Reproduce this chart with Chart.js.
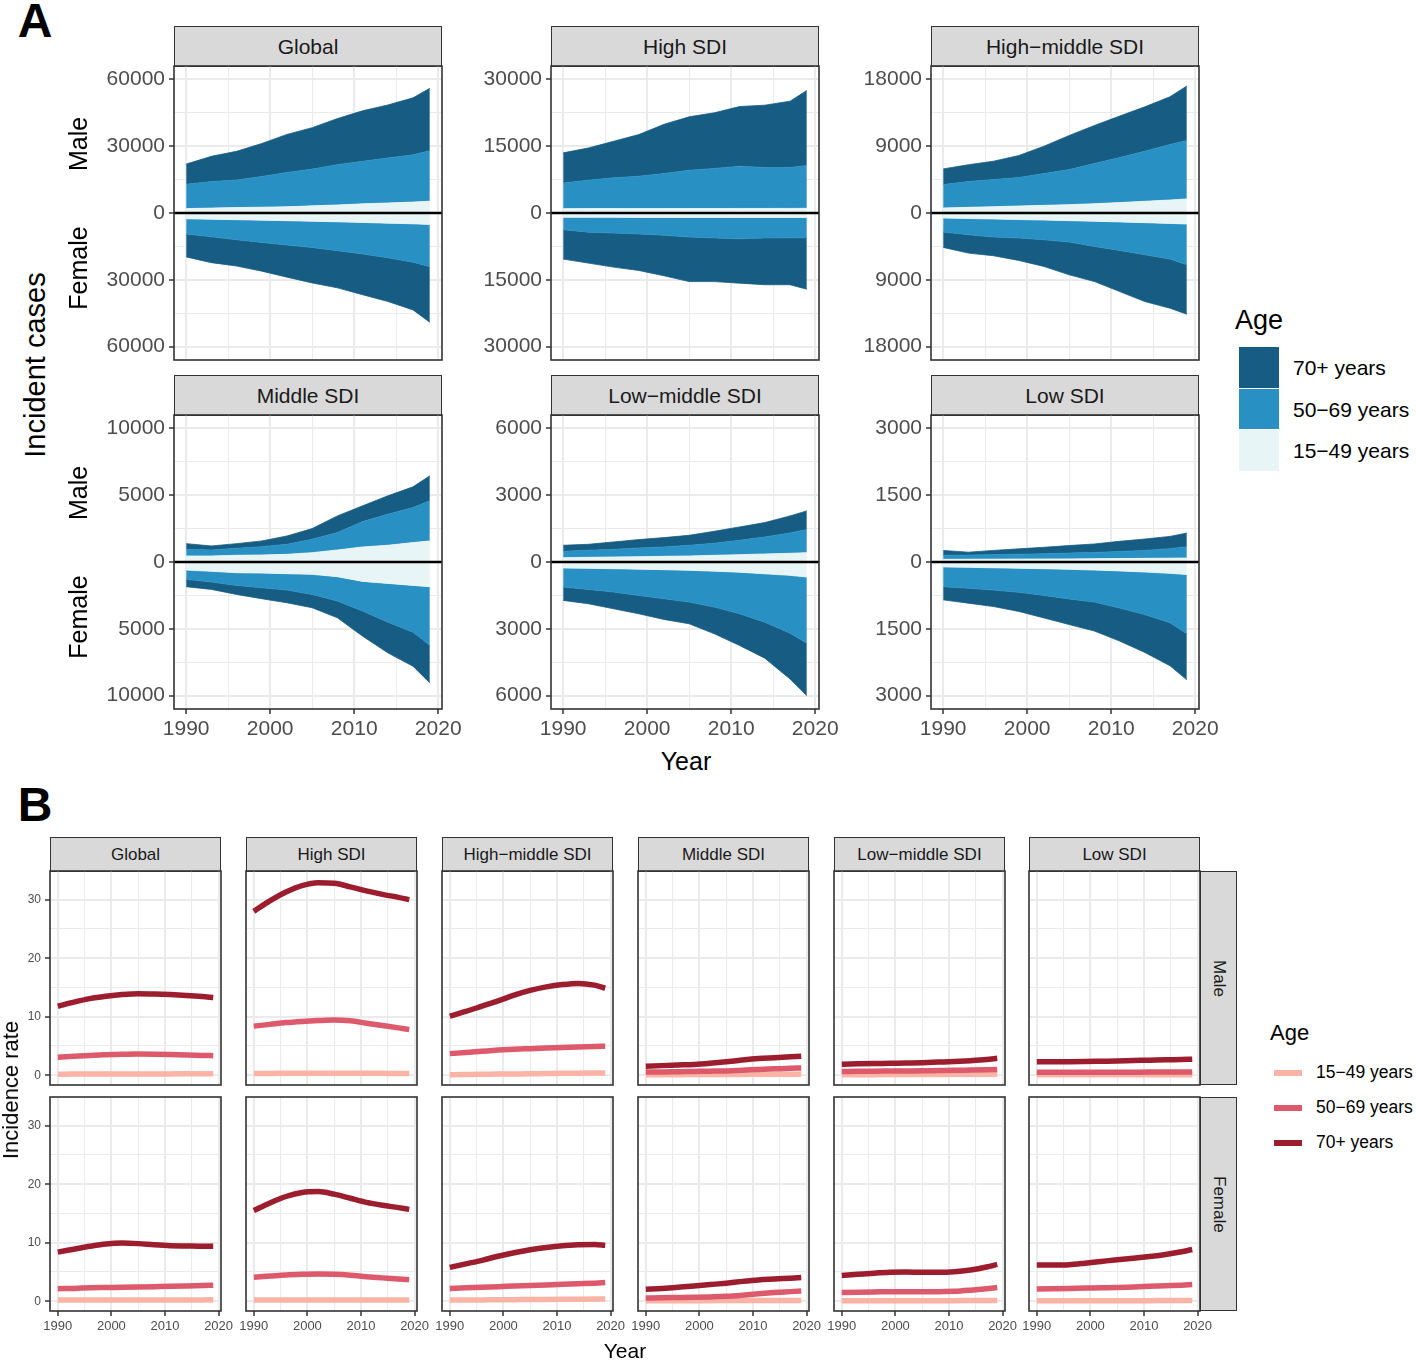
<!DOCTYPE html>
<html>
<head>
<meta charset="utf-8">
<script src="https://cdn.jsdelivr.net/npm/chart.js@4.4.1/dist/chart.umd.min.js"></script>
<style>
  body { margin: 0; background: #fff; font-family: "Liberation Sans", Arial, sans-serif; }
  #fig { position: relative; width: 1416px; height: 1360px; overflow: hidden; background: #fff; }
  #fig canvas { position: absolute; }
  .strip { position: absolute; box-sizing: border-box; background: #d9d9d9; border: 1.5px solid #333;
           color: #1a1a1a; display: flex; align-items: center; justify-content: center; white-space: nowrap; }
  .txt { position: absolute; white-space: nowrap; line-height: 1; }
</style>
</head>
<body>
<div id="fig"></div>
<script>
const FONT = '"Liberation Sans", Arial, sans-serif';

// ---- data ----
const years = [1990, 1993, 1996, 1999, 2002, 2005, 2008, 2011, 2014, 2017, 2019];
const regions = ["Global", "High SDI", "High\u2212middle SDI", "Middle SDI", "Low\u2212middle SDI", "Low SDI"];
const ageLabels = ["15\u221249 years", "50\u221269 years", "70+ years"];
const xTicks = [1990, 2000, 2010, 2020];

// panel A: incident cases, [15-49, 50-69, 70+]
const casesGlobalMale = [
  [1970, 2200, 2450, 2600, 2800, 3200, 3600, 4100, 4500, 4900, 5300],
  [10930, 11900, 12350, 13800, 15400, 16500, 18100, 19100, 20200, 21200, 22700],
  [9070, 11350, 12900, 14800, 17100, 18600, 20700, 22700, 23800, 25600, 28000]
];
const casesGlobalFemale = [
  [2580, 2800, 3000, 3200, 3450, 3700, 3950, 4250, 4550, 4850, 5150],
  [6820, 7900, 9000, 10000, 10950, 11800, 12950, 14150, 15550, 17250, 18950],
  [10300, 11600, 11800, 12900, 14400, 15900, 16700, 18300, 19600, 21400, 25000]
];
const casesHighMale = [
  [980, 990, 1000, 1000, 1000, 1010, 1010, 1020, 1020, 1030, 1050],
  [5770, 6360, 6900, 7250, 7850, 8590, 8990, 9480, 9180, 9170, 9600],
  [6750, 7250, 8200, 9350, 11050, 12000, 12500, 13400, 14000, 14900, 16850]
];
const casesHighFemale = [
  [960, 970, 980, 990, 1000, 1000, 1000, 1000, 1000, 1000, 1000],
  [2790, 3330, 3520, 3710, 4000, 4400, 4600, 4800, 4600, 4550, 4600],
  [6600, 6950, 7650, 8200, 9100, 10000, 9800, 9950, 10500, 10550, 11500]
];
const casesHighMiddleMale = [
  [675, 760, 850, 940, 1030, 1125, 1250, 1400, 1580, 1750, 1890],
  [3150, 3470, 3650, 3830, 4280, 4725, 5410, 6070, 6745, 7475, 7875],
  [2115, 2270, 2480, 2970, 3690, 4590, 5130, 5580, 5975, 6435, 7335]
];
const casesHighMiddleFemale = [
  [675, 740, 810, 880, 950, 1030, 1110, 1200, 1300, 1400, 1485],
  [1890, 2185, 2430, 2495, 2650, 2885, 3390, 3840, 4325, 4810, 5490],
  [2070, 2475, 2520, 3015, 3600, 4410, 4725, 5535, 6300, 6615, 6660]
];
const casesMiddleMale = [
  [450, 450, 500, 525, 575, 700, 900, 1125, 1250, 1450, 1575],
  [500, 450, 525, 625, 750, 1000, 1300, 1900, 2325, 2625, 3000],
  [425, 300, 350, 425, 625, 800, 1250, 1175, 1375, 1550, 1875]
];
const casesMiddleFemale = [
  [600, 700, 800, 830, 875, 925, 1100, 1450, 1600, 1750, 1850],
  [700, 800, 950, 1095, 1225, 1500, 1825, 2225, 2900, 3500, 4375],
  [550, 550, 675, 825, 950, 1000, 1250, 1875, 2300, 2550, 2825]
];
const casesLowMiddleMale = [
  [195, 210, 225, 240, 255, 270, 300, 330, 360, 390, 420],
  [285, 315, 345, 390, 420, 480, 540, 645, 765, 915, 1035],
  [270, 270, 330, 375, 420, 450, 540, 600, 645, 765, 840]
];
const casesLowMiddleFemale = [
  [270, 285, 300, 320, 345, 375, 410, 460, 530, 600, 675],
  [855, 945, 1050, 1180, 1305, 1425, 1615, 1865, 2170, 2595, 2970],
  [600, 645, 750, 825, 930, 975, 1200, 1425, 1620, 2055, 2355]
];
const casesLowMale = [
  [60, 62, 64, 66, 68, 70, 74, 78, 82, 86, 90],
  [90, 93, 101, 109, 117, 130, 141, 157, 178, 214, 255],
  [110, 65, 95, 120, 145, 170, 190, 230, 255, 275, 305]
];
const casesLowFemale = [
  [110, 120, 130, 140, 150, 165, 180, 200, 225, 255, 280],
  [445, 470, 500, 540, 600, 665, 720, 835, 955, 1110, 1330],
  [295, 335, 370, 430, 505, 575, 650, 740, 850, 965, 1035]
];
const aTickMax = [60000, 30000, 18000, 10000, 6000, 3000];

// panel B: incidence rate, [15-49, 50-69, 70+]
const rateGlobalMale = [
  [0.18, 0.2, 0.2, 0.22, 0.22, 0.23, 0.24, 0.24, 0.25, 0.25, 0.25],
  [3.1, 3.25, 3.4, 3.5, 3.58, 3.62, 3.6, 3.55, 3.48, 3.4, 3.35],
  [11.8, 12.5, 13.1, 13.5, 13.8, 13.95, 13.9, 13.8, 13.65, 13.45, 13.3]
];
const rateHighMale = [
  [0.3, 0.32, 0.33, 0.34, 0.35, 0.35, 0.35, 0.34, 0.33, 0.32, 0.32],
  [8.4, 8.7, 9.0, 9.2, 9.35, 9.45, 9.3, 8.9, 8.5, 8.1, 7.8],
  [28.0, 29.8, 31.3, 32.4, 32.9, 32.8, 32.2, 31.5, 30.9, 30.4, 30.0]
];
const rateHighMiddleMale = [
  [0.1, 0.13, 0.16, 0.2, 0.23, 0.26, 0.3, 0.33, 0.36, 0.38, 0.4],
  [3.7, 3.9, 4.1, 4.3, 4.45, 4.55, 4.65, 4.75, 4.85, 4.92, 4.95],
  [10.1, 10.9, 11.8, 12.7, 13.7, 14.5, 15.1, 15.5, 15.7, 15.4, 14.9]
];
const rateMiddleMale = [
  [0.1, 0.1, 0.11, 0.12, 0.13, 0.14, 0.15, 0.17, 0.18, 0.19, 0.2],
  [0.55, 0.58, 0.62, 0.66, 0.7, 0.75, 0.85, 1.0, 1.1, 1.2, 1.25],
  [1.55, 1.65, 1.75, 1.85, 2.05, 2.3, 2.6, 2.85, 3.0, 3.15, 3.25]
];
const rateLowMiddleMale = [
  [0.1, 0.1, 0.11, 0.12, 0.13, 0.14, 0.15, 0.16, 0.18, 0.19, 0.2],
  [0.65, 0.67, 0.7, 0.72, 0.74, 0.76, 0.8, 0.84, 0.9, 0.96, 1.0],
  [1.9, 1.95, 2.0, 2.05, 2.1, 2.15, 2.25, 2.35, 2.5, 2.7, 2.9]
];
const rateLowMale = [
  [0.08, 0.08, 0.09, 0.09, 0.1, 0.1, 0.1, 0.1, 0.11, 0.11, 0.11],
  [0.5, 0.5, 0.5, 0.51, 0.52, 0.52, 0.53, 0.54, 0.54, 0.55, 0.55],
  [2.3, 2.3, 2.32, 2.35, 2.4, 2.45, 2.52, 2.58, 2.65, 2.7, 2.75]
];
const rateGlobalFemale = [
  [0.2, 0.2, 0.21, 0.21, 0.22, 0.22, 0.23, 0.23, 0.24, 0.24, 0.25],
  [2.15, 2.2, 2.3, 2.35, 2.4, 2.45, 2.5, 2.55, 2.62, 2.7, 2.75],
  [8.4, 8.9, 9.4, 9.8, 9.95, 9.85, 9.65, 9.5, 9.45, 9.4, 9.4]
];
const rateHighFemale = [
  [0.2, 0.21, 0.22, 0.23, 0.24, 0.24, 0.24, 0.23, 0.23, 0.22, 0.22],
  [4.1, 4.3, 4.5, 4.6, 4.65, 4.6, 4.45, 4.2, 4.0, 3.8, 3.7],
  [15.5, 16.8, 17.9, 18.6, 18.75, 18.3, 17.6, 16.9, 16.4, 16.0, 15.7]
];
const rateHighMiddleFemale = [
  [0.2, 0.22, 0.24, 0.26, 0.28, 0.3, 0.32, 0.34, 0.36, 0.38, 0.4],
  [2.2, 2.3, 2.4, 2.5, 2.6, 2.7, 2.8, 2.9, 3.0, 3.1, 3.2],
  [5.8, 6.4, 7.0, 7.7, 8.3, 8.8, 9.2, 9.5, 9.65, 9.7, 9.55]
];
const rateMiddleFemale = [
  [0.1, 0.1, 0.1, 0.11, 0.11, 0.12, 0.12, 0.13, 0.14, 0.15, 0.15],
  [0.55, 0.6, 0.64, 0.68, 0.75, 0.85, 1.05, 1.3, 1.5, 1.65, 1.75],
  [2.05, 2.2, 2.4, 2.6, 2.85, 3.1, 3.4, 3.65, 3.8, 3.95, 4.05]
];
const rateLowMiddleFemale = [
  [0.1, 0.1, 0.1, 0.1, 0.11, 0.11, 0.11, 0.11, 0.12, 0.12, 0.12],
  [1.5, 1.55, 1.6, 1.65, 1.65, 1.62, 1.62, 1.7, 1.9, 2.15, 2.35],
  [4.4, 4.6, 4.8, 4.95, 5.0, 4.95, 4.95, 5.05, 5.35, 5.85, 6.3]
];
const rateLowFemale = [
  [0.1, 0.1, 0.1, 0.1, 0.11, 0.11, 0.11, 0.11, 0.12, 0.12, 0.12],
  [2.1, 2.15, 2.2, 2.25, 2.3, 2.35, 2.45, 2.55, 2.65, 2.75, 2.85],
  [6.2, 6.2, 6.25, 6.5, 6.8, 7.1, 7.35, 7.65, 8.0, 8.45, 8.85]
];
const bTicks = [0, 10, 20, 30];
const bYRange = [-1.66, 34.9];
const xRange = [1988.55, 2020.45];

const casesMale = [casesGlobalMale, casesHighMale, casesHighMiddleMale, casesMiddleMale, casesLowMiddleMale, casesLowMale];
const casesFemale = [casesGlobalFemale, casesHighFemale, casesHighMiddleFemale, casesMiddleFemale, casesLowMiddleFemale, casesLowFemale];
const rateMale = [rateGlobalMale, rateHighMale, rateHighMiddleMale, rateMiddleMale, rateLowMiddleMale, rateLowMale];
const rateFemale = [rateGlobalFemale, rateHighFemale, rateHighMiddleFemale, rateMiddleFemale, rateLowMiddleFemale, rateLowFemale];

const areaColors = ["#e8f5f6", "#2990c4", "#175c82"];
const lineColors = ["#fbb3a5", "#dd5a6c", "#9c1d2e"];

// ---- layout ----
const fig = document.getElementById("fig");
Chart.defaults.font.family = FONT;

function addText(text, x, y, size, opts = {}) {
  const d = document.createElement("div");
  d.className = "txt";
  d.textContent = text;
  d.style.fontSize = size + "px";
  d.style.left = x + "px";
  d.style.top = y + "px";
  let tf = opts.left ? "translate(0,-50%)" : "translate(-50%,-50%)";
  if (opts.rotate) tf += " rotate(" + opts.rotate + "deg)";
  d.style.transform = tf;
  if (opts.bold) d.style.fontWeight = "bold";
  d.style.color = opts.color || "#000";
  fig.appendChild(d);
}

function addStrip(text, x, y, w, h, size, vertical) {
  const d = document.createElement("div");
  d.className = "strip";
  d.style.left = x + "px";
  d.style.top = y + "px";
  d.style.width = w + "px";
  d.style.height = h + "px";
  d.style.fontSize = size + "px";
  const s = document.createElement("span");
  s.textContent = text;
  if (vertical) s.style.writingMode = "vertical-rl";
  d.appendChild(s);
  fig.appendChild(d);
}

function addBox(x, y, w, h, color) {
  const d = document.createElement("div");
  d.style.cssText = `position:absolute;left:${x}px;top:${y}px;width:${w}px;height:${h}px;background:${color}`;
  fig.appendChild(d);
}

function addCanvas(left, top, width, height) {
  const c = document.createElement("canvas");
  c.width = width;
  c.height = height;
  c.style.left = left + "px";
  c.style.top = top + "px";
  c.style.width = width + "px";
  c.style.height = height + "px";
  fig.appendChild(c);
  return c;
}

// border box round the panel, and the zero line for panel A
const panelBox = {
  id: "panelBox",
  afterDatasetsDraw(chart, args, opts) {
    const a = chart.chartArea;
    const ctx = chart.ctx;
    ctx.save();
    if (opts.zero) {
      const y0 = chart.scales.y.getPixelForValue(0);
      ctx.strokeStyle = "#000";
      ctx.lineWidth = 2.6;
      ctx.beginPath();
      ctx.moveTo(a.left, y0);
      ctx.lineTo(a.right, y0);
      ctx.stroke();
    }
    ctx.strokeStyle = "#333";
    ctx.lineWidth = 1.6;
    ctx.strokeRect(a.left, a.top, a.right - a.left, a.bottom - a.top);
    ctx.restore();
  }
};

function gridOpts(drawTicks) {
  return {
    color: "#ebebeb",
    lineWidth: c => (c.tick && c.tick.isMinor ? 1.1 : 2),
    drawTicks,
    tickLength: 5,
    tickWidth: 1.5,
    tickColor: c => (c.tick && c.tick.isMinor ? "rgba(0,0,0,0)" : "#333")
  };
}

function xAxis(showLabels, size, height) {
  const vals = [];
  for (let i = 0; i < xTicks.length; i++) {
    vals.push({ value: xTicks[i] });
    if (i < xTicks.length - 1) vals.push({ value: (xTicks[i] + xTicks[i + 1]) / 2, isMinor: true });
  }
  return {
    type: "linear",
    min: xRange[0],
    max: xRange[1],
    bounds: "data",
    afterBuildTicks: s => { s.ticks = vals.map(t => ({ ...t })); },
    ticks: {
      display: showLabels, autoSkip: false, maxRotation: 0, padding: 3,
      color: "#4d4d4d", font: { size, family: FONT },
      callback: v => (xTicks.includes(v) ? String(v) : "")
    },
    grid: gridOpts(showLabels),
    border: { display: false },
    afterFit: s => { s.height = height; s.paddingLeft = 0; s.paddingRight = 0; }
  };
}

function yAxis(min, max, major, showLabels, size, width, absLabels) {
  const vals = [];
  for (let i = 0; i < major.length; i++) {
    vals.push({ value: major[i] });
    if (i < major.length - 1) vals.push({ value: (major[i] + major[i + 1]) / 2, isMinor: true });
  }
  return {
    type: "linear",
    min, max,
    bounds: "data",
    stacked: absLabels,
    afterBuildTicks: s => { s.ticks = vals.map(t => ({ ...t })); },
    ticks: {
      display: showLabels, autoSkip: false, padding: 4,
      color: "#4d4d4d", font: { size, family: FONT },
      callback: v => (major.includes(v) ? String(absLabels ? Math.abs(v) : v) : "")
    },
    grid: gridOpts(showLabels),
    border: { display: false },
    afterFit: s => { s.width = width; s.paddingTop = 0; s.paddingBottom = 0; }
  };
}

function baseOptions(pad, scales, zero) {
  return {
    responsive: false,
    animation: false,
    events: [],
    layout: { padding: pad },
    plugins: { legend: { display: false }, tooltip: { enabled: false }, panelBox: { zero } },
    scales
  };
}

// ---- panel A: stacked areas, male up and female down ----
const aCols = [174, 551, 931];
const aRows = [66, 415];
const aPanelW = 268, aPanelH = 294, aStripH = 41;

regions.forEach((name, i) => {
  const col = i % 3, row = Math.floor(i / 3);
  const px = aCols[col], py = aRows[row];
  const yW = 100, xH = row === 1 ? 34 : 0, P = 2, R = 30;
  addStrip(name, px, py - aStripH + 1, aPanelW, aStripH, 21);

  const datasets = [];
  [casesMale[i], casesFemale[i]].forEach((sexData, s) => {
    sexData.forEach((vals, k) => {
      datasets.push({
        data: vals.map((v, j) => ({ x: years[j], y: s ? -v : v })),
        backgroundColor: areaColors[k],
        borderColor: areaColors[k],
        borderWidth: 0.8,
        pointRadius: 0,
        tension: 0,
        fill: k === 0 ? "origin" : "-1"
      });
    });
  });

  const m = aTickMax[i];
  const major = [-m, -m / 2, 0, m / 2, m];
  const canvas = addCanvas(px - yW - P, py - P, P + yW + aPanelW + R, P + aPanelH + xH + P);
  new Chart(canvas, {
    type: "line",
    data: { datasets },
    options: baseOptions({ left: P, top: P, right: R, bottom: P }, {
      x: xAxis(row === 1, 21, xH),
      y: yAxis(-m * 1.1, m * 1.1, major, true, 21, yW, true)
    }, true),
    plugins: [panelBox]
  });
});

addText("A", 35, 21, 48, { bold: true });
addText("Incident cases", 35, 365, 29, { rotate: -90 });
[144, 493].forEach(y => addText("Male", 78, y, 25, { rotate: -90 }));
[268, 617].forEach(y => addText("Female", 78, y, 25, { rotate: -90 }));
addText("Year", 686, 761, 25);

addText("Age", 1235, 320, 27, { left: true });
[2, 1, 0].forEach((k, n) => {
  addBox(1239, 347 + n * 41.5, 40, 40.5, areaColors[k]);
  addText(ageLabels[k], 1293, 367 + n * 41.5, 21, { left: true });
});

// ---- panel B: incidence rate lines ----
const bCols = [50, 246, 442, 638, 834, 1029];
const bRows = [871, 1097];
const bPanelW = 171, bPanelH = 214;

regions.forEach((name, i) => {
  addStrip(name, bCols[i], 837, bPanelW, 35, 17);
  [rateMale[i], rateFemale[i]].forEach((sexData, r) => {
    const px = bCols[i], py = bRows[r];
    const yW = i === 0 ? 50 : 0, xH = r === 1 ? 26 : 0, P = 2, R = 22;
    const L = i === 0 ? P : 22; // room for the first year label
    const datasets = [2, 1, 0].map(k => ({
      data: sexData[k].map((v, j) => ({ x: years[j], y: v })),
      borderColor: lineColors[k],
      borderWidth: 5.5,
      borderCapStyle: "butt",
      pointRadius: 0,
      fill: false,
      cubicInterpolationMode: "monotone"
    }));
    const canvas = addCanvas(px - yW - L, py - P, L + yW + bPanelW + R, P + bPanelH + xH + P);
    new Chart(canvas, {
      type: "line",
      data: { datasets },
      options: baseOptions({ left: L, top: P, right: R, bottom: P }, {
        x: xAxis(r === 1, 13, xH),
        y: yAxis(bYRange[0], bYRange[1], bTicks, i === 0, 12, yW, false)
      }, false),
      plugins: [panelBox]
    });
  });
});

addStrip("Male", 1200, bRows[0], 37, bPanelH, 17, true);
addStrip("Female", 1200, bRows[1], 37, bPanelH, 17, true);

addText("B", 35, 805, 48, { bold: true });
addText("Incidence rate", 11, 1090, 22, { rotate: -90 });
addText("Year", 625, 1350, 21);

addText("Age", 1270, 1033, 22, { left: true });
[0, 1, 2].forEach(k => {
  const y = 1073 + k * 35;
  addBox(1274, y - 3, 28, 6, lineColors[k]);
  addText(ageLabels[k], 1316, y, 17.5, { left: true });
});
</script>
</body>
</html>
